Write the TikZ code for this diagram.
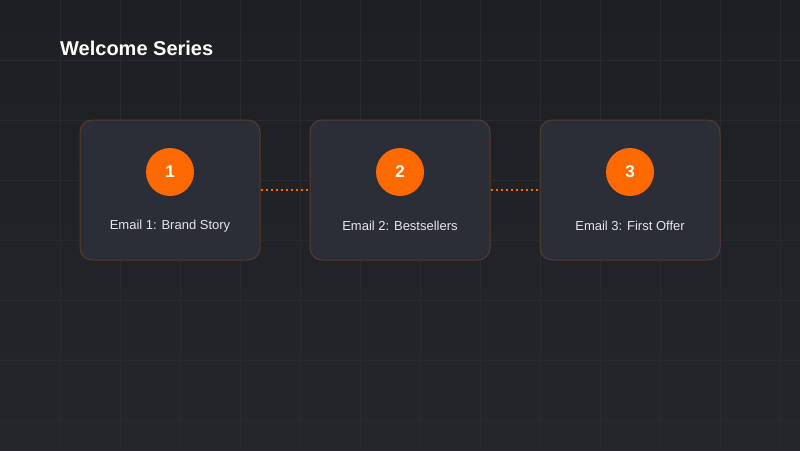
\documentclass[tikz,border=0pt]{standalone}
\usepackage{fontspec}
\setmainfont{Liberation Sans}
\definecolor{bgA}{HTML}{1E1F23}
\definecolor{bgB}{HTML}{24262B}
\definecolor{gridc}{HTML}{282A2F}
\definecolor{boxf}{HTML}{2B2E36}
\definecolor{boxd}{HTML}{573A2C}
\definecolor{org}{HTML}{FF6A00}
\definecolor{txt}{HTML}{E4E6EA}
\begin{document}
\begin{tikzpicture}[x=1pt,y=-1pt,
  card/.style={draw=boxd,line width=1pt,fill=boxf,rounded corners=12pt,minimum width=180pt,minimum height=140pt,inner sep=0},
  badge/.style={circle,fill=org,minimum size=48pt,inner sep=0,text=white,font=\bfseries\fontsize{17}{19}\selectfont},
  lbl/.style={text=txt,font=\fontsize{13}{15}\selectfont},
  link/.style={org,line width=2pt,dash pattern=on 2pt off 3pt}]
\useasboundingbox (0,0) rectangle (800,450);
\shade[top color=bgA,bottom color=bgB] (0,0) rectangle (800,450);
\foreach \i in {60,120,...,780} \draw[gridc,line width=1pt] (\i,0) -- (\i,450);
\foreach \j in {60,120,...,420} \draw[gridc,line width=1pt] (0,\j) -- (800,\j);
\node[anchor=west,inner sep=0,text=white,font=\bfseries\fontsize{20}{23}\selectfont] (title) at (60,48) {Welcome Series};
\node[card] (c1) at (170,190) {};
\node[card] (c2) at (400,190) {};
\node[card] (c3) at (630,190) {};
\node[badge] (b1) at (170,172) {1};
\node[badge] (b2) at (400,172) {2};
\node[badge] (b3) at (630,172) {3};
\node[lbl] (l1) at (170,226) {Email 1: Brand Story};
\node[lbl] (l2) at (400,226) {Email 2: Bestsellers};
\node[lbl] (l3) at (630,226) {Email 3: First Offer};
\draw[link] (c1.east) -- (c2.west);
\draw[link] (c2.east) -- (c3.west);
\end{tikzpicture}
\end{document}
